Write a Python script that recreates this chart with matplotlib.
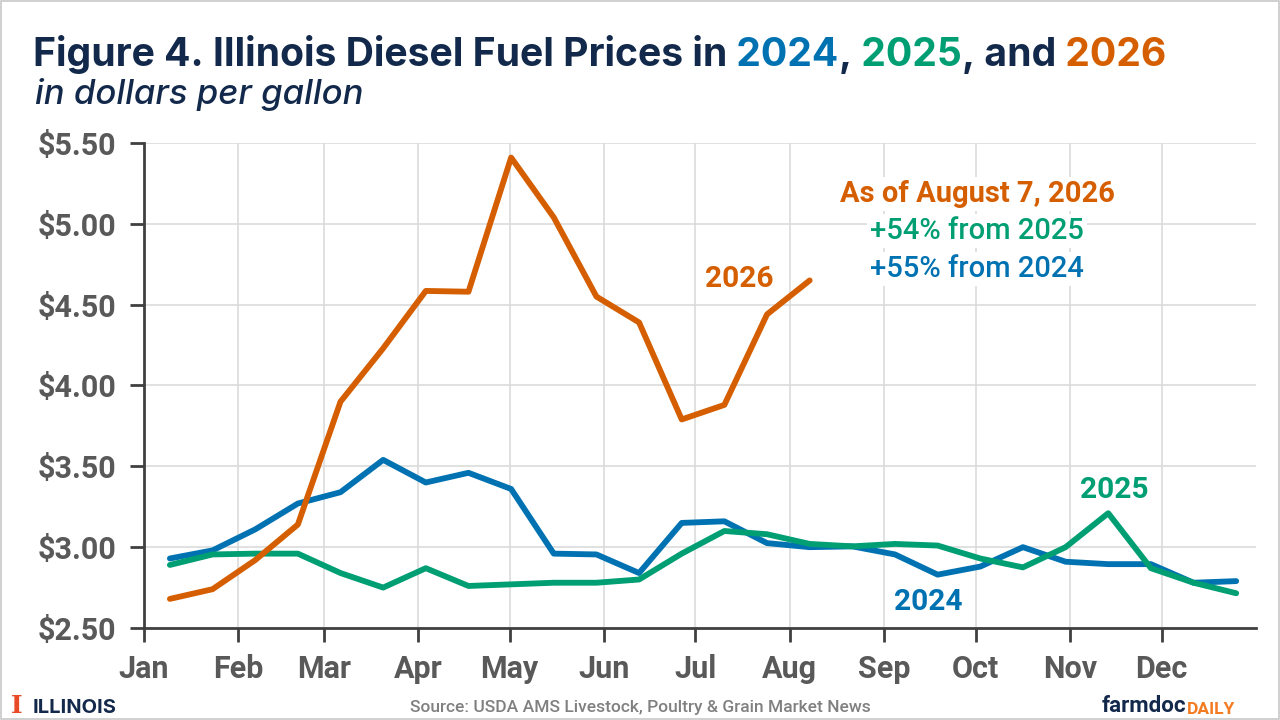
import matplotlib
matplotlib.use("Agg")
import matplotlib.pyplot as plt
import pandas as pd
from matplotlib.patches import Rectangle
from matplotlib.text import Annotation

# ---------------- data ----------------
sample_dates = ["01-09", "01-23", "02-06", "02-20", "03-06", "03-20", "04-03", "04-17",
                "05-01", "05-15", "05-29", "06-12", "06-26", "07-10", "07-24", "08-07",
                "08-21", "09-04", "09-18", "10-02", "10-16", "10-30", "11-13", "11-27",
                "12-11", "12-25"]
prices_2024 = [2.93, 2.98, 3.11, 3.27, 3.34, 3.54, 3.40, 3.46, 3.36, 2.96, 2.955, 2.84, 3.15,
               3.16, 3.025, 3.00, 3.005, 2.955, 2.83, 2.88, 3.00, 2.91, 2.895, 2.895, 2.78, 2.79]
prices_2025 = [2.89, 2.955, 2.96, 2.96, 2.84, 2.75, 2.87, 2.76, 2.77, 2.78, 2.78, 2.80, 2.96,
               3.10, 3.08, 3.02, 3.005, 3.02, 3.01, 2.93, 2.875, 3.00, 3.21, 2.87, 2.78, 2.715]
prices_2026 = [2.68, 2.74, 2.92, 3.14, 3.90, 4.23, 4.585, 4.58, 5.41, 5.04, 4.55, 4.39, 3.79,
               3.88, 4.44, 4.65]
month_labels = ["Jan", "Feb", "Mar", "Apr", "May", "Jun", "Jul", "Aug", "Sep", "Oct", "Nov", "Dec"]
y_ticks = [2.50, 3.00, 3.50, 4.00, 4.50, 5.00, 5.50]

# ---------------- styles ----------------
C24, C25, C26 = "#0072B2", "#009E73", "#D55E00"
NAVY = "#13294B"
GRAY = "#595959"
SANS = ["Roboto", "DejaVu Sans"]
TITLE = ["Inter", "DejaVu Sans"]

base = pd.Timestamp("2026-01-01")
x_all = [(pd.Timestamp("2026-" + d) - base).days + 0.5 for d in sample_dates]
month_pos = [(pd.Timestamp(f"2026-{m:02d}-01") - base).days for m in range(1, 13)]

fig = plt.figure(figsize=(12.8, 7.2), dpi=100)
ax = fig.add_axes([144 / 1280, (720 - 628) / 720, 1112 / 1280, (628 - 143) / 720])

LW = 4.2
ax.plot(x_all[:len(prices_2024)], prices_2024, color=C24, lw=LW, solid_capstyle="round", zorder=3)
ax.plot(x_all[:len(prices_2025)], prices_2025, color=C25, lw=LW, solid_capstyle="round", zorder=4)
ax.plot(x_all[:len(prices_2026)], prices_2026, color=C26, lw=LW, solid_capstyle="round", zorder=5)

ax.set_xlim(0, 365)
ax.set_ylim(2.5, 5.5)
ax.set_xticks(month_pos)
ax.set_xticklabels(month_labels)
ax.set_yticks(y_ticks)
ax.set_yticklabels([f"${v:.2f}" for v in y_ticks])
ax.grid(True, color="#d9d9d9", lw=1.1, zorder=0)
ax.set_axisbelow(True)
for s in ["top", "right"]:
    ax.spines[s].set_visible(False)
for s in ["left", "bottom"]:
    ax.spines[s].set_color("#404040")
    ax.spines[s].set_linewidth(2)
ax.tick_params(axis="both", length=10, width=2, color="#404040", labelcolor=GRAY)
ax.tick_params(axis="y", pad=10)
ax.tick_params(axis="x", pad=9)
for lab in ax.get_xticklabels() + ax.get_yticklabels():
    lab.set_family(SANS)
    lab.set_fontweight("bold")
    lab.set_fontsize(22)

# ---------------- series labels ----------------
lab_kw = dict(fontsize=21.5, fontweight="bold", family=SANS, ha="center", va="baseline")
ax.text(x_all[14] - 9, 4.61, "2026", color=C26, **lab_kw)
ax.text(x_all[22] + 2, 3.305, "2025", color=C25, **lab_kw)
ax.text(x_all[18] - 3, 2.611, "2024", color=C24, **lab_kw)

bbox = dict(facecolor="white", edgecolor="none", pad=2)
ax.text(273.5, 5.133, "As of August 7, 2026", color=C26, fontsize=21, fontweight="bold",
        family=SANS, ha="center", va="baseline", bbox=bbox, zorder=6)
ax.text(273.5, 4.904, "+54% from 2025", color=C25, fontsize=21, fontweight="medium",
        family=SANS, ha="center", va="baseline", bbox=bbox, zorder=6)
ax.text(273.5, 4.669, "+55% from 2024", color=C24, fontsize=21, fontweight="medium",
        family=SANS, ha="center", va="baseline", bbox=bbox, zorder=6)

# ---------------- title ----------------
pieces = [("Figure 4. Illinois Diesel Fuel Prices in", NAVY), (" 2024", C24), (",", NAVY),
          (" 2025", C25), (", and", NAVY), (" 2026", C26)]
TS = 28.2
prev = fig.text(33 / 1280, 1 - 66 / 720, pieces[0][0], color=pieces[0][1], fontsize=TS,
                fontweight="bold", family=TITLE, ha="left", va="baseline")
for txt, col in pieces[1:]:
    prev = fig.add_artist(Annotation(
        txt, xy=(1, 0), xycoords=prev, color=col, fontsize=TS, fontweight="bold",
        family=TITLE, ha="left", va="bottom"))

fig.text(35 / 1280, 1 - 104 / 720, "in dollars per gallon", color=NAVY, fontsize=25,
         fontstyle="italic", fontweight="medium", family=TITLE, ha="left", va="baseline")

# ---------------- footer ----------------
fig.text(11 / 1280, 1 - 713 / 720, "I", color="#E84A27", fontsize=18, fontweight="bold",
         family=["DejaVu Serif"], ha="left", va="baseline")
fig.text(33 / 1280, 1 - 713 / 720, "ILLINOIS", color=NAVY, fontsize=14.5, fontweight="bold",
         family=TITLE, ha="left", va="baseline")
fig.text(640 / 1280, 1 - 712 / 720, "Source: USDA AMS Livestock, Poultry & Grain Market News",
         color="#808080", fontsize=12.5, fontweight="medium", family=SANS, ha="center",
         va="baseline")
fd = fig.text(1102 / 1280, 1 - 712 / 720, "farmdoc", color=NAVY, fontsize=16, fontweight="bold",
              family=SANS, ha="left", va="baseline")
fig.add_artist(Annotation(
    "DAILY", xy=(1, 0), xycoords=fd, color="#F47B20", fontsize=12.5, fontweight="bold",
    family=SANS, ha="left", va="bottom"))

fig.add_artist(Rectangle((0.0008, 0.0012), 0.9984, 0.9976, transform=fig.transFigure,
                         fill=False, edgecolor="#c8c8c8", lw=1.2))

fig.savefig("out.png", dpi=100, facecolor="white")
